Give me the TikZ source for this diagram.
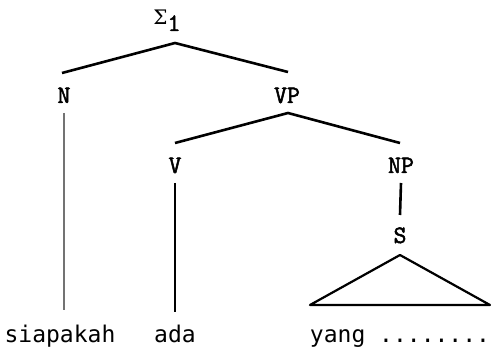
\documentclass[tikz,border=0pt]{standalone}
\usepackage{fontspec}
\newfontfamily\wordfont{DejaVu Sans Mono}
\newfontfamily\catfont{Latin Modern Mono}[FakeBold=2]
\newfontfamily\sigmafont{DejaVu Serif}
\usetikzlibrary{positioning}
\tikzset{
  cat/.style={font=\catfont\fontsize{25}{25}\selectfont,inner sep=0pt,anchor=base},
  word/.style={font=\wordfont\fontsize{23}{23}\selectfont,inner sep=0pt,anchor=base},
  branch/.style={line width=2.6pt},
  stem/.style={line width=1.8pt}
}

\begin{document}
\begin{tikzpicture}[x=1pt,y=1pt]
  \useasboundingbox (0,0) rectangle (491,348);
  % categories
  \node[cat] (sig) at (167,323) {{\sigmafont\fontsize{20}{20}\selectfont Σ}\raisebox{-6pt}{1}};
  \node[cat] (n) at (64,245) {N};
  \node[cat] (vp) at (287,245) {VP};
  \node[cat] (v) at (175,175) {V};
  \node[cat] (np) at (401,175) {NP};
  \node[cat] (s) at (400,105) {S};
  % words
  \node[word] (w1) at (60,5) {siapakah};
  \node[word] (w2) at (175,5) {ada};
  \node[word] (w3) at (400,5) {yang ........};
  % branches
  \coordinate (sigfoot) at ([xshift=8pt]sig.base |- 0,305);
  \draw[branch] ([xshift=-2pt]n.north |- 0,275) -- (sigfoot) -- ([xshift=1pt]vp.north |- 0,276);
  \coordinate (vpfoot) at ([xshift=1pt]vp.south |- 0,235);
  \draw[branch] (v.north |- 0,205) -- (vpfoot) -- ([xshift=-1pt]np.north |- 0,205);
  \draw[line width=1.2pt,black!55] (n.south |- 0,235) -- (n.south |- 0,38);
  \draw[stem] (v.south |- 0,165) -- (v.south |- 0,36);
  \draw[branch] (np.south |- 0,165) -- (s.north |- 0,133);
  % triangle over the relative clause
  \draw[line width=2.2pt,line join=round] (s.south |- 0,93) -- ([xshift=-90pt]w3.north |- 0,43) -- ([xshift=90pt]w3.north |- 0,43) -- cycle;
\end{tikzpicture}
\end{document}
